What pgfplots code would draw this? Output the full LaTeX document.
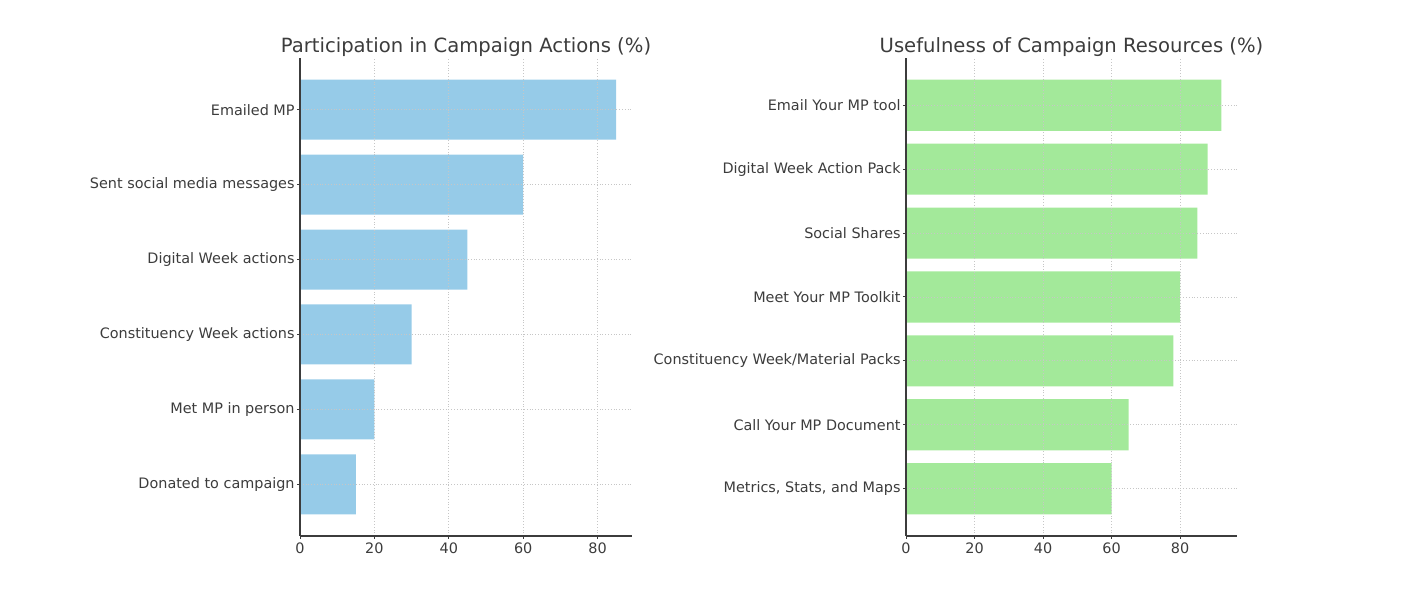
\documentclass[border=0pt]{standalone}
\usepackage{pgfplots}
\pgfplotsset{compat=1.18}
\usepackage{fontspec}
\setmainfont{DejaVu Sans}
\definecolor{barblue}{RGB}{150,203,232}
\definecolor{bargreen}{RGB}{163,233,154}
\definecolor{txt}{RGB}{60,60,60}
\begin{document}
\begin{tikzpicture}
\path (0pt,0pt) rectangle (709pt,302pt);
\pgfplotsset{
 common/.style={
  scale only axis, anchor=south west,
  xbar, bar width=0.8,
  axis x line=bottom, axis y line=left,
  axis line style={-, draw=txt, line width=0.7pt},
  xmin=0, ytick=data, xtick={0,20,40,60,80},
  grid=major, major grid style={densely dotted, gray!45, line width=0.4pt},
  tick align=outside, major tick length=1.5pt, tick style={txt, line width=0.5pt},
  ticklabel style={font=\fontsize{7.2}{8}\selectfont, text=txt},
  /pgf/number format/assume math mode=true,
  yticklabel style={inner sep=1pt}, xticklabel style={inner sep=1.5pt},
  title style={font=\fontsize{9.8}{11}\selectfont, text=txt, at={(0.5,1)}, anchor=base, yshift=-3.5pt},
  axis on top, enlargelimits=false,
 }
}
\begin{axis}[common, at={(150pt,34pt)}, width=166pt, height=239pt,
  xmax=89.25, ymin=-0.69, ymax=5.69,
  title={Participation in Campaign Actions (\%)},
  yticklabels={Donated to campaign, Met MP in person, Constituency Week actions, Digital Week actions, Sent social media messages, Emailed MP}]
\addplot[fill=barblue, draw=none] coordinates {(15,0) (20,1) (30,2) (45,3) (60,4) (85,5)};
\end{axis}
\begin{axis}[common, at={(453pt,34pt)}, width=165.5pt, height=239pt,
  xmax=96.6, ymin=-0.74, ymax=6.74,
  title={Usefulness of Campaign Resources (\%)},
  yticklabels={{Metrics, Stats, and Maps}, Call Your MP Document, Constituency Week/Material Packs, Meet Your MP Toolkit, Social Shares, Digital Week Action Pack, Email Your MP tool}]
\addplot[fill=bargreen, draw=none] coordinates {(60,0) (65,1) (78,2) (80,3) (85,4) (88,5) (92,6)};
\end{axis}
\end{tikzpicture}
\end{document}
